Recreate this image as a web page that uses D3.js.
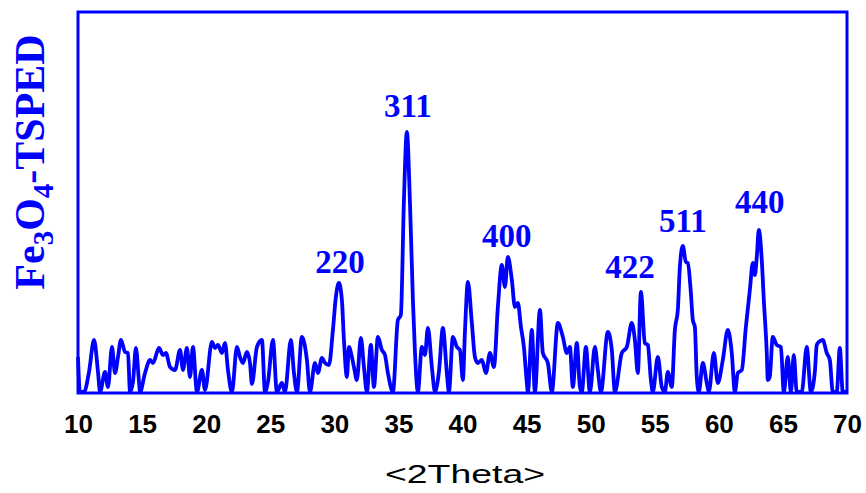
<!DOCTYPE html>
<html>
<head>
<meta charset="utf-8">
<script src="https://cdn.jsdelivr.net/npm/d3@7"></script>
<style>
  html, body { margin: 0; padding: 0; background: #ffffff; }
  svg { display: block; }
</style>
</head>
<body>
<svg id="chart" width="866" height="493"></svg>
<script>
// ---- data ----
const twoTheta = [
  10.00, 10.15, 10.47, 10.86, 11.25, 11.56, 11.72, 12.11, 12.34, 12.65, 12.89, 13.12, 13.35, 13.67, 13.90, 14.06,
  14.29, 14.52, 14.76, 14.84, 15.23, 15.62, 15.85, 16.32, 16.63, 16.86, 17.18, 17.57, 17.96, 18.19, 18.50, 18.74,
  18.97, 19.28, 19.67, 19.91, 20.45, 20.69, 20.92, 21.23, 21.47, 21.70, 22.01, 22.40, 22.64, 22.87, 23.18, 23.42,
  23.57, 23.96, 24.35, 24.59, 24.82, 25.21, 25.52, 25.91, 26.15, 26.61, 26.85, 27.08, 27.47, 27.86, 28.10, 28.49,
  28.72, 29.03, 29.27, 29.58, 29.89, 30.12, 30.36, 30.59, 30.75, 30.98, 31.14, 31.37, 31.53, 31.76, 32.07, 32.31,
  32.54, 32.85, 33.09, 33.40, 33.71, 33.95, 34.18, 34.57, 34.96, 35.19, 35.43, 35.66, 35.90, 36.13, 36.29, 36.52,
  36.83, 37.07, 37.30, 37.61, 37.85, 38.16, 38.47, 38.78, 38.94, 39.25, 39.56, 39.80, 40.03, 40.19, 40.42, 40.73,
  40.97, 41.20, 41.51, 41.83, 42.14, 42.45, 42.76, 43.07, 43.31, 43.54, 43.85, 44.09, 44.32, 44.56, 44.79, 45.02,
  45.10, 45.41, 45.65, 46.04, 46.27, 46.66, 46.97, 47.44, 47.83, 48.14, 48.38, 48.61, 48.92, 49.16, 49.31, 49.63,
  49.94, 50.33, 50.56, 50.80, 51.34, 51.65, 51.89, 52.43, 52.82, 53.21, 53.45, 53.68, 53.92, 54.23, 54.46, 54.70,
  54.85, 55.24, 55.55, 55.79, 56.02, 56.33, 56.57, 56.80, 56.96, 57.19, 57.43, 57.58, 57.82, 57.97, 58.13, 58.28,
  58.44, 58.75, 59.06, 59.22, 59.61, 59.92, 60.31, 60.70, 61.01, 61.25, 61.48, 61.79, 62.11, 62.42, 62.65, 62.81,
  62.96, 63.12, 63.35, 63.51, 63.74, 63.82, 63.97, 64.21, 64.52, 64.84, 65.07, 65.38, 65.62, 65.85, 66.08, 66.47,
  66.86, 67.18, 67.49, 67.64, 67.80, 68.11, 68.42, 68.66, 68.89, 69.20, 69.44, 69.67, 70.00
];
const intensity = [
  35, 0, 0, 20, 52, 20, 0, 20, 5, 45, 19, 35, 52, 40, 39, 0,
  10, 44, 10, 0, 19, 32, 29, 44, 37, 39, 25, 22, 42, 22, 44, 15,
  45, 0, 22, 2, 50, 44, 47, 39, 49, 22, 0, 45, 35, 29, 40, 29,
  8, 45, 52, 0, 10, 52, 0, 9, 0, 52, 19, 0, 55, 32, 0, 29,
  19, 34, 29, 27, 62, 95, 109, 92, 52, 15, 45, 35, 25, 12, 54, 25,
  0, 47, 5, 55, 42, 37, 19, 0, 72, 77, 192, 260, 190, 92, 40, 0,
  45, 37, 64, 25, 0, 20, 64, 19, 0, 55, 45, 42, 12, 60, 110, 69,
  35, 29, 32, 19, 39, 25, 85, 127, 105, 135, 112, 85, 89, 65, 45, 9,
  0, 62, 0, 82, 39, 29, 0, 69, 55, 39, 45, 5, 49, 5, 0, 45,
  0, 45, 22, 0, 60, 42, 0, 39, 45, 69, 52, 19, 100, 49, 47, 12,
  0, 35, 5, 0, 20, 5, 62, 82, 125, 146, 130, 129, 99, 72, 65, 15,
  0, 29, 9, 0, 39, 9, 32, 62, 39, 0, 19, 22, 65, 102, 129, 117,
  135, 162, 132, 92, 39, 12, 15, 55, 47, 45, 0, 35, 0, 37, 0, 0,
  45, 0, 20, 47, 50, 52, 39, 32, 0, 0, 44, 0, 0
];
const xTicks = [10, 15, 20, 25, 30, 35, 40, 45, 50, 55, 60, 65, 70];
const peakLabels = ["220", "311", "400", "422", "511", "440"];
const peakPos = [30.44, 35.74, 43.46, 53.06, 57.19, 63.20];
const peakLevel = [119, 275, 145, 114, 160, 179];
const xTitle = "<2Theta>";
const yTitleParts = [["Fe", false], ["3", true], ["O", false], ["4", true], ["-TSPED", false]];

// ---- drawing ----
const blue = "#0000ff";
const W = 866, H = 493;
const m = { left: 78, right: 19, top: 12, bottom: 100 };
const svg = d3.select("#chart");

const x = d3.scaleLinear().domain([10, 70]).range([m.left, W - m.right]);
const y = d3.scaleLinear().domain([0, 380]).range([H - m.bottom - 1, m.top]);

const points = twoTheta.map((t, i) => [t, intensity[i]]);

const line = d3.line()
  .x(d => x(d[0]))
  .y(d => y(d[1]))
  .curve(d3.curveMonotoneX);

svg.append("path")
  .datum(points)
  .attr("d", line)
  .attr("fill", "none")
  .attr("stroke", blue)
  .attr("stroke-width", 3.8)
  .attr("stroke-linejoin", "round");

// frame
svg.append("rect")
  .attr("x", m.left)
  .attr("y", m.top)
  .attr("width", W - m.right - m.left)
  .attr("height", H - m.bottom - m.top)
  .attr("fill", "none")
  .attr("stroke", blue)
  .attr("stroke-width", 3);

// x axis
const xAxis = d3.axisBottom(x).tickValues(xTicks).tickSize(0).tickPadding(0);
const gx = svg.append("g")
  .attr("transform", `translate(0,${H - m.bottom})`)
  .call(xAxis);
gx.select(".domain").remove();
gx.selectAll("text")
  .attr("dy", null)
  .attr("y", 40)
  .attr("fill", "#000")
  .style("font-family", "'Liberation Sans', Arial, sans-serif")
  .style("font-weight", "bold")
  .style("font-size", "26px");

// x title
svg.append("text")
  .attr("x", 465)
  .attr("y", 483)
  .attr("text-anchor", "middle")
  .attr("textLength", 160)
  .attr("lengthAdjust", "spacingAndGlyphs")
  .style("font-family", "'Liberation Sans', Arial, sans-serif")
  .style("font-size", "25px")
  .attr("fill", "#000")
  .text(xTitle);

// y title (rotated)
const yt = svg.append("text")
  .attr("transform", "translate(44,162) rotate(-90)")
  .attr("text-anchor", "middle")
  .style("font-family", "'Liberation Serif', 'Times New Roman', serif")
  .style("font-weight", "bold")
  .style("font-size", "42px")
  .attr("fill", blue);
yTitleParts.forEach(([t, sub], i) => {
  const ts = yt.append("tspan").text(t);
  if (sub) ts.style("font-size", "29px").attr("dy", 9);
  else if (i > 0 && yTitleParts[i - 1][1]) ts.attr("dy", -9);
});

// peak labels
peakLabels.forEach((lab, i) => {
  svg.append("text")
    .attr("x", x(peakPos[i]))
    .attr("y", y(peakLevel[i]))
    .attr("text-anchor", "middle")
    .style("font-family", "'Liberation Serif', 'Times New Roman', serif")
    .style("font-weight", "bold")
    .style("font-size", "33px")
    .attr("fill", blue)
    .text(lab);
});
</script>
</body>
</html>
